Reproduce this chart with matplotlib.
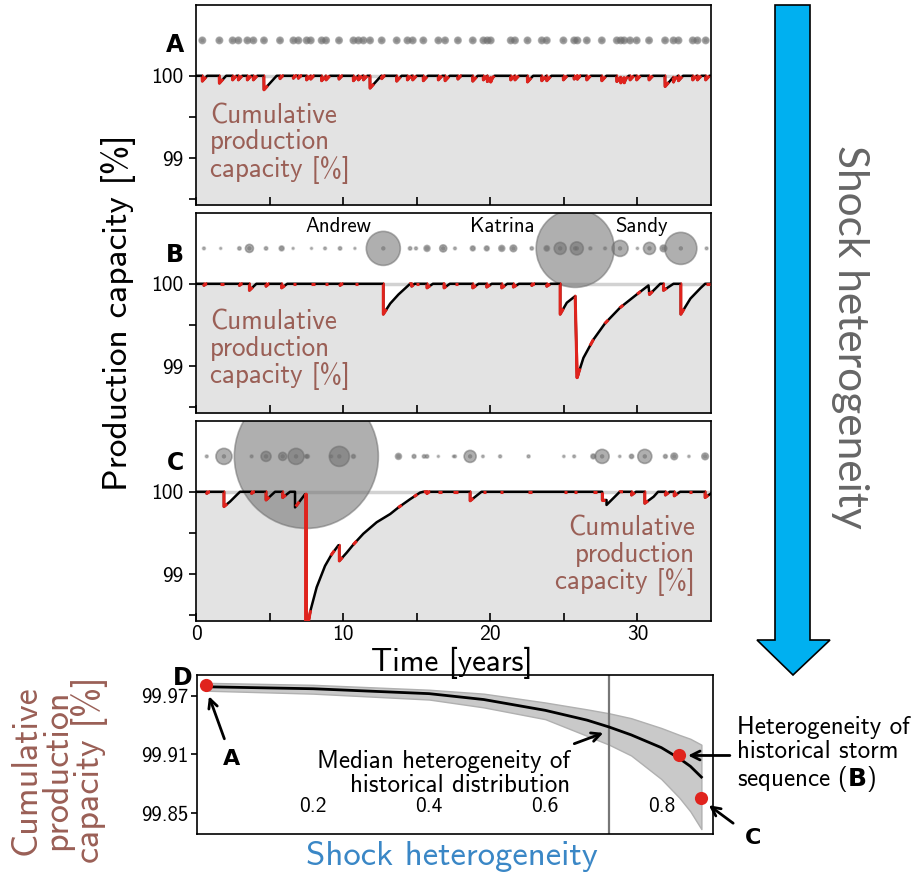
import numpy as np
import matplotlib.pyplot as plt
from matplotlib.patches import Polygon
from matplotlib.ticker import FixedLocator

plt.rcParams['font.family'] = ['cmss10', 'DejaVu Sans']
plt.rcParams['axes.unicode_minus'] = False
plt.rcParams['mathtext.fontset'] = 'custom'
plt.rcParams['mathtext.rm'] = 'cmss10'
plt.rcParams['mathtext.bf'] = 'DejaVu Sans:bold'

# ---------------- data ----------------
# panel A: homogeneous storm sizes -> storm times [yr] and capacity drop [%]
a_storm_t = [0.43, 1.59, 2.49, 2.88, 3.49, 3.90, 4.62, 5.71, 6.62, 6.96, 7.52, 7.80,
             8.54, 8.84, 9.72, 10.70, 11.04, 11.38, 11.83, 12.62, 13.64, 14.37, 14.73,
             15.45, 16.47, 16.93, 17.80, 18.81, 19.53, 19.80, 20.03, 21.39, 21.68, 22.53,
             23.50, 23.84, 24.97, 25.70, 25.92, 26.56, 27.58, 28.60, 28.87, 29.10, 29.50,
             29.95, 30.79, 31.88, 32.45, 32.79, 33.76, 34.08, 34.64]
a_drop = [0.065, 0.09, 0.05, 0.05, 0.05, 0.05, 0.17, 0.035, 0.03, 0.03, 0.05, 0.04,
          0.06, 0.05, 0.04, 0.06, 0.05, 0.05, 0.15, 0.035, 0.065, 0.05, 0.05,
          0.06, 0.05, 0.06, 0.04, 0.065, 0.05, 0.07, 0.05, 0.05, 0.05, 0.075,
          0.06, 0.06, 0.05, 0.04, 0.04, 0.05, 0.06, 0.07, 0.07, 0.06, 0.05,
          0.05, 0.05, 0.13, 0.06, 0.06, 0.05, 0.05, 0.05]
a_recovery_rate = 0.2  # % per year

# panel B: historical storm sequence
b_curve_t = [0, 0.54, 0.54, 0.7, 2.95, 2.95, 3.1, 3.63, 3.63, 4.1, 4.76, 4.76, 4.95,
             5.82, 5.82, 6.2, 9.79, 9.79, 9.95, 12.73, 12.73, 13.2, 13.76, 14.55,
             14.66, 14.66, 14.85, 15.7, 15.7, 16.1, 16.86, 16.86, 17.25, 18.81, 18.81,
             19.2, 19.76, 19.76, 20.1, 20.78, 20.78, 21.15, 21.57, 21.57, 21.95, 22.82,
             22.82, 23.0, 23.84, 23.84, 24.1, 24.75, 24.75, 25.2, 25.77, 25.9, 26.33,
             27.0, 27.8, 28.82, 29.95, 30.75, 30.82, 31.55, 31.77, 31.77, 32.45, 32.95,
             32.95, 33.6, 34.3, 34.6, 35]
b_curve_v = [100, 100, 99.98, 100, 100, 99.98, 100, 100, 99.92, 100, 100, 99.97, 100,
             100, 99.95, 100, 100, 99.98, 100, 100, 99.63, 99.76, 99.87, 100,
             100, 99.97, 100, 100, 99.95, 100, 100, 99.95, 100, 100, 99.95,
             100, 100, 99.96, 100, 100, 99.95, 100, 100, 99.96, 100, 100,
             99.98, 100, 100, 99.97, 100, 100, 99.63, 99.77, 99.85, 98.86, 99.10,
             99.32, 99.52, 99.71, 99.87, 99.98, 99.87, 100, 100, 99.92, 100, 100,
             99.63, 99.82, 99.95, 100, 100]
b_storm_t = [0.54, 1.68, 2.95, 3.63, 4.76, 5.82, 6.6, 7.85, 8.77, 9.79, 10.8, 12.73,
             14.55, 14.95, 15.7, 16.8, 17.6, 18.81, 19.76, 20.78, 21.57, 22.82, 23.84,
             24.75, 25.77, 25.88, 26.8, 27.8, 28.82, 30.0, 30.82, 31.77, 32.95, 34.7]
b_storm_r = [1.5, 1.2, 1.8, 4, 1.8, 2.5, 1.2, 1.2, 1.5, 1.8, 1.2, 17,
             1.8, 1.6, 3, 3.5, 1.5, 2.5, 2.5, 3, 3.3, 1.8, 2.7,
             6, 39, 6.5, 1.6, 1.5, 8, 1.3, 6, 3.3, 16, 1.5]
b_names = ['Andrew', 'Katrina', 'Sandy']
b_name_t = [9.7, 20.8, 30.3]

# panel C: most heterogeneous storm sequence
c_curve_t = [0, 0.73, 0.73, 0.9, 1.9, 1.9, 2.31, 2.76, 2.99, 3.78, 3.78, 3.95, 4.76,
             4.76, 5.37, 5.89, 5.89, 6.39, 6.73, 6.73, 7.41, 7.48, 7.48, 7.64, 7.8,
             8.2, 8.77, 9.22, 9.68, 9.74, 9.74, 10.24, 10.7, 11.37, 12.28, 13.2, 13.76,
             14.55, 15.23, 15.45, 15.7, 15.7, 15.85, 18.63, 18.63, 19.4, 27.6, 27.6,
             27.9, 27.9, 28.8, 29.6, 29.6, 29.9, 30.5, 30.5, 31.1, 31.4, 31.9, 31.9,
             32.2, 32.5, 32.5, 32.9, 34.6, 34.6, 35]
c_curve_v = [100, 100, 99.98, 100, 100, 99.82, 99.88, 99.96, 100, 100, 99.98, 100, 100,
             99.90, 100, 100, 99.93, 100, 100, 99.81, 99.97, 99.97, 98.41, 98.43, 98.57,
             98.84, 99.10, 99.24, 99.35, 99.35, 99.16, 99.26, 99.36, 99.49, 99.63, 99.73, 99.81,
             99.91, 99.99, 100, 100, 99.98, 100, 100, 99.89, 100, 100, 99.90,
             99.90, 99.84, 100, 100, 99.96, 100, 100, 99.86, 99.94, 100, 100, 99.96,
             100, 100, 99.95, 100, 100, 99.93, 99.98]
c_storm_t = [0.73, 1.9, 3.78, 4.76, 5.89, 6.8, 7.5, 7.57, 9.19, 9.74, 10.7, 13.76,
             14.82, 15.5, 15.7, 16.47, 17.5, 17.6, 18.63, 19.5, 20.67, 22.6, 25.0, 25.7,
             27.0, 27.6, 28.8, 29.6, 30.5, 31.9, 32.5, 33.5, 34.6]
c_storm_r = [1.5, 8, 1.5, 5, 4, 8, 72, 2, 1.5, 10, 2, 3,
             2, 1.8, 1.8, 1.2, 1.2, 1.5, 6, 1.4, 1.6, 1.6, 1.3, 1.5,
             2.5, 7, 1.3, 2.2, 7, 2, 3.3, 1.3, 3.3]

# panel D: capacity vs shock heterogeneity
d_het = [0.016, 0.2, 0.4, 0.494, 0.6, 0.672, 0.71, 0.748, 0.8, 0.831, 0.85, 0.869]
d_median = [99.979, 99.977, 99.972, 99.966, 99.955, 99.945, 99.938, 99.930, 99.917,
            99.906, 99.898, 99.887]
d_upper = [99.983, 99.981, 99.976, 99.972, 99.963, 99.956, 99.952, 99.947, 99.937,
           99.930, 99.926, 99.920]
d_lower = [99.975, 99.972, 99.966, 99.958, 99.946, 99.929, 99.920, 99.909, 99.885,
           99.866, 99.852, 99.834]
d_hist_median = 0.71
d_case_het = [0.016, 0.83, 0.869]
d_case_cap = [99.981, 99.909, 99.866]

# ---------------- helpers ----------------
W, H = 922, 872
fig = plt.figure(figsize=(W / 100, H / 100), dpi=100)

def ax_at(x0, y0, x1, y1):
    return fig.add_axes([x0 / W, 1 - y1 / H, (x1 - x0) / W, (y1 - y0) / H])

def clip_line(t, v, t0, t1):
    t = np.asarray(t, float)
    v = np.asarray(v, float)
    keep = (t >= t0) & (t <= t1)
    tt = np.concatenate([[t0], t[keep], [t1]])
    vv = np.concatenate([[np.interp(t0, t, v)], v[keep], [np.interp(t1, t, v)]])
    return tt, vv

BROWN = '#9a5f56'
RED = '#e0231d'
YLO, YHI = 98.43, 100.86

def ts_panel(ax, t, v, storm_t, storm_r, red_len=0.22):
    ax.set_xlim(0, 35)
    ax.set_ylim(YLO, YHI)
    ax.fill_between(t, YLO - 1, v, color='#e3e3e3', lw=0, zorder=1)
    ax.axhline(100, color='#d2d2d2', lw=2.5, zorder=1.2)
    r = np.asarray(storm_r)
    s = (1.44 * r) ** 2
    alpha = np.clip(0.12 + 0.12 * r, 0.15, 0.55)
    ax.scatter(storm_t, np.full(len(r), 100.43), s=s, c='#6e6e6e', alpha=alpha,
               edgecolors='#6e6e6e', linewidths=1.2, zorder=2)
    dot = np.minimum(r, 2.2)
    ax.scatter(storm_t, np.full(len(r), 100.43), s=(1.44 * dot) ** 2, c='#6e6e6e',
               alpha=np.clip(0.15 + 0.15 * r, 0.15, 0.6), lw=0, zorder=2.1)
    ax.plot(t, v, color='black', lw=1.8, zorder=3)
    for ts in storm_t:
        tt, vv = clip_line(t, v, ts - 0.02, ts + red_len)
        ax.plot(tt, vv, color=RED, lw=2.2, zorder=4, solid_capstyle='butt')
    ax.yaxis.set_major_locator(FixedLocator([99, 100]))
    ax.yaxis.set_minor_locator(FixedLocator([98.5, 99.5]))
    ax.xaxis.set_major_locator(FixedLocator([0, 10, 20, 30]))
    ax.xaxis.set_minor_locator(FixedLocator([5, 15, 25]))
    ax.tick_params(axis='y', which='both', direction='out', length=5, width=1.2,
                   labelsize=15.5, pad=4)
    ax.tick_params(axis='x', which='both', direction='in', length=6, width=1.2,
                   labelsize=15.5, pad=3)
    for sp in ax.spines.values():
        sp.set_linewidth(1.2)

# panel A curve: each storm knocks capacity down, then linear recovery
a_t = np.arange(0, 35.001, 0.01)
a_def = np.zeros_like(a_t)
for ts, d in zip(a_storm_t, a_drop):
    a_def += np.clip(d - a_recovery_rate * (a_t - ts), 0, d) * (a_t >= ts)
a_v = 100 - a_def

axA = ax_at(196, 5, 711, 205)
ts_panel(axA, a_t, a_v, a_storm_t, [3.2] * len(a_storm_t), red_len=0.25)
axA.set_xticklabels([])

axB = ax_at(196, 213, 711, 413)
ts_panel(axB, b_curve_t, b_curve_v, b_storm_t, b_storm_r)
axB.set_xticklabels([])
for name, tn in zip(b_names, b_name_t):
    axB.text(tn, 100.70, name, ha='center', va='center', fontsize=15, zorder=6)

axC = ax_at(196, 421, 711, 621)
ts_panel(axC, c_curve_t, c_curve_v, c_storm_t, c_storm_r)

cum_txt = 'Cumulative\nproduction\ncapacity [%]'
cum_kw = dict(color=BROWN, fontsize=19.5, va='center', linespacing=1.06, zorder=6)
axA.text(0.95, 99.18, cum_txt, ha='left', **cum_kw)
axB.text(0.95, 99.20, cum_txt, ha='left', **cum_kw)
axC.text(33.9, 99.22, cum_txt, ha='right', multialignment='right', **cum_kw)

for lab, y in zip(['A', 'B', 'C'], [45, 255, 463]):
    fig.text(175 / W, 1 - y / H, lab, fontsize=17, fontweight='bold', family='DejaVu Sans',
             ha='center', va='center')

fig.text(118 / W, 1 - 313 / H, 'Production capacity [%]', rotation=90, fontsize=25.5,
         ha='center', va='center')
fig.text(452 / W, 1 - 663 / H, 'Time [years]', fontsize=22.5, ha='center', va='center')

# panel D
axD = ax_at(197, 675, 713, 834)
axD.set_xlim(0, 0.889)
axD.set_ylim(99.829, 99.991)
axD.fill_between(d_het, d_lower, d_upper, color='#c9c9c9', edgecolor='#b0b0b0', lw=1,
                 zorder=1)
axD.plot(d_het, d_median, color='black', lw=2, zorder=3)
axD.axvline(d_hist_median, color='#777777', lw=1.6, zorder=2)
axD.scatter(d_case_het, d_case_cap, s=90, color=RED, zorder=5, lw=0)
axD.yaxis.set_major_locator(FixedLocator([99.85, 99.91, 99.97]))
axD.xaxis.set_major_locator(FixedLocator([0.2, 0.4, 0.6, 0.8]))
axD.set_yticklabels(['99.85', '99.91', '99.97'])
axD.set_xticklabels(['0.2', '0.4', '0.6', '0.8'])
axD.tick_params(axis='y', direction='out', length=4, width=1.2, labelsize=15, pad=2)
axD.tick_params(axis='x', direction='in', length=0, labelsize=15.5, pad=-27)
for sp in axD.spines.values():
    sp.set_linewidth(1.2)

arrow_kw = dict(arrowstyle='->', lw=2, color='black', mutation_scale=16)
axD.annotate('A', xy=(0.019, 99.972), xytext=(0.06, 99.905), fontsize=16,
             fontweight='bold', family='DejaVu Sans', ha='center', va='center',
             arrowprops=dict(shrinkA=6, shrinkB=2, **arrow_kw))
axD.text(0.643, 99.891, 'Median heterogeneity of\nhistorical distribution', fontsize=18,
         ha='right', va='center', multialignment='right', linespacing=1.05, zorder=6)
axD.annotate('', xy=(0.70, 99.932), xytext=(0.650, 99.921),
             arrowprops=dict(shrinkA=0, shrinkB=0, **arrow_kw))
axD.annotate('Heterogeneity of\nhistorical storm\nsequence ($\\mathbf{B}$)',
             xy=(0.846, 99.909), xytext=(0.93, 99.909), fontsize=18, ha='left',
             va='center', linespacing=1.05, annotation_clip=False,
             arrowprops=dict(shrinkA=3, shrinkB=0, relpos=(0, 0.5), **arrow_kw))
axD.annotate('C', xy=(0.878, 99.860), xytext=(0.958, 99.825), fontsize=16,
             fontweight='bold', family='DejaVu Sans', ha='center', va='center',
             annotation_clip=False, arrowprops=dict(shrinkA=8, shrinkB=2, **arrow_kw))
fig.text(183 / W, 1 - 678 / H, 'D', fontsize=17, fontweight='bold', family='DejaVu Sans',
         ha='center', va='center')
fig.text(452 / W, 1 - 856 / H, 'Shock heterogeneity', fontsize=25, color='#3a87c6',
         ha='center', va='center')
fig.text(59 / W, 1 - 770 / H, 'Cumulative\nproduction\ncapacity [%]', fontsize=26,
         color=BROWN, rotation=90, ha='center', va='center', linespacing=0.92)

# big arrow on the right
arrow_px = [(775, 5), (810, 5), (810, 640), (830, 640), (793, 675), (757, 640), (775, 640)]
fig.patches.append(Polygon([(x / W, 1 - y / H) for x, y in arrow_px], closed=True,
                           transform=fig.transFigure, facecolor='#00b0f0',
                           edgecolor='black', lw=1.2))
fig.text(850 / W, 1 - 337 / H, 'Shock heterogeneity', rotation=-90, fontsize=30.5,
         color='#666666', family='Lato', ha='center', va='center')

fig.savefig('out.png', dpi=100)
